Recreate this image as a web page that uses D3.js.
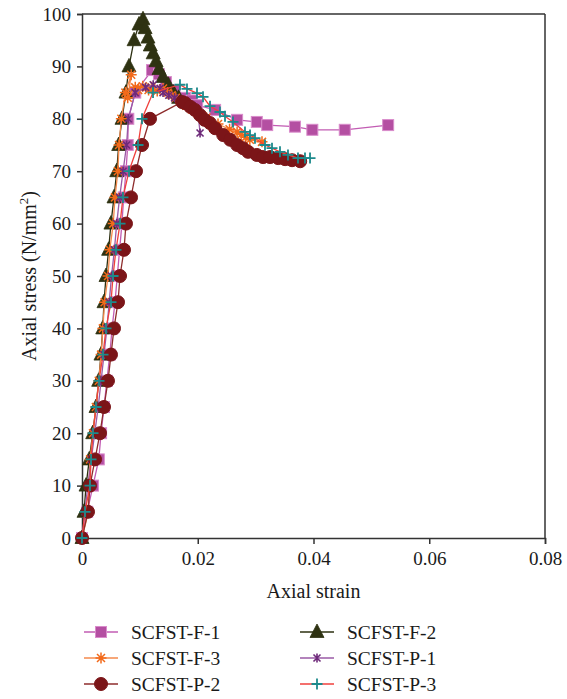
<!DOCTYPE html>
<html>
<head>
<meta charset="utf-8">
<script src="https://cdn.jsdelivr.net/npm/d3@7"></script>
<style>
  html, body { margin: 0; padding: 0; background: #fff; }
  svg text { font-family: "Liberation Serif", "DejaVu Serif", serif; fill: #1a1a1a; }
</style>
</head>
<body>
<svg id="chart" width="567" height="699"></svg>
<script>
// Axial stress–strain curves of six specimens
const seriesNames = ["SCFST-F-1", "SCFST-F-2", "SCFST-F-3", "SCFST-P-1", "SCFST-P-2", "SCFST-P-3"];

const strainF1 = [0, 0.0009, 0.0019, 0.0029, 0.0033, 0.0038, 0.0043, 0.0048, 0.0052, 0.0057, 0.0061, 0.0065, 0.0069, 0.0072, 0.0076, 0.0079, 0.0080, 0.0092, 0.0121, 0.0133, 0.0145, 0.0160, 0.0178, 0.0190, 0.0199, 0.0230, 0.0268, 0.0302, 0.0320, 0.0368, 0.0398, 0.0454, 0.0529];
const stressF1 = [0, 5, 10, 15, 20, 25, 30, 35, 40, 45, 50, 55, 60, 65, 70, 75, 80, 85, 89.3, 88.5, 87, 85.5, 84, 83.5, 82.6, 81.7, 79.8, 79.4, 78.8, 78.5, 77.9, 77.9, 78.8];

const strainF2 = [0, 0.00035, 0.0007, 0.00126, 0.00185, 0.00242, 0.00288, 0.00328, 0.00358, 0.0038, 0.00415, 0.0046, 0.005, 0.00553, 0.006, 0.00634, 0.00691, 0.0076, 0.00812, 0.009, 0.00985, 0.01054, 0.0109, 0.0114, 0.0118, 0.0123, 0.0128, 0.0133, 0.0140, 0.0149, 0.0158, 0.0167];
const stressF2 = [0, 5, 10, 15, 20, 25, 30, 35, 40, 45, 50, 55, 60, 65, 70, 75, 80, 85, 90, 95, 98, 99, 97.3, 95.5, 94, 92.5, 91, 89.5, 88, 86.5, 85, 84];

const strainF3 = [0, 0.0011, 0.0012, 0.0014, 0.0019, 0.0024, 0.0029, 0.0033, 0.0036, 0.0039, 0.0045, 0.0048, 0.0054, 0.0057, 0.0062, 0.0064, 0.0068, 0.0075, 0.0085, 0.0079, 0.0092, 0.0097, 0.0105, 0.0115, 0.0120, 0.0130, 0.0140, 0.0148, 0.0155, 0.0162, 0.0172, 0.0180, 0.0190, 0.0200, 0.0215, 0.0235, 0.0255, 0.0268, 0.0275, 0.0283, 0.0290, 0.0311];
const stressF3 = [0, 5, 10, 15, 20, 25, 30, 35, 40, 45, 50, 55, 60, 65, 70, 75, 80, 85, 88.4, 84, 86, 85.5, 86.2, 85.5, 86, 85.3, 85.8, 85, 84.5, 84, 83.3, 82.5, 81.8, 81, 80.2, 79, 78, 77.5, 77, 76.5, 76, 75.6];

const strainP1 = [0, 0.0005, 0.0010, 0.0016, 0.0022, 0.0028, 0.0033, 0.0038, 0.0043, 0.0047, 0.0051, 0.0056, 0.0060, 0.0065, 0.0071, 0.0077, 0.0080, 0.0092, 0.0110, 0.0123, 0.0135, 0.0140, 0.0150, 0.0160, 0.0170, 0.0180, 0.0190, 0.0200, 0.0204];
const stressP1 = [0, 5, 10, 15, 20, 25, 30, 35, 40, 45, 50, 55, 60, 65, 70, 75, 80, 85, 86, 86.5, 85.8, 85, 84.5, 84, 83.5, 83, 82.5, 81.5, 77.3];

const strainP2 = [0, 0.00104, 0.00138, 0.00225, 0.00311, 0.0038, 0.00449, 0.00501, 0.00553, 0.00622, 0.00657, 0.00726, 0.0076, 0.00847, 0.00933, 0.01037, 0.01175, 0.0173, 0.0178, 0.0187, 0.0195, 0.0204, 0.0212, 0.0221, 0.0230, 0.0244, 0.0256, 0.0268, 0.0278, 0.0287, 0.0302, 0.0313, 0.0325, 0.0339, 0.0351, 0.0363, 0.0377];
const stressP2 = [0, 5, 10, 15, 20, 25, 30, 35, 40, 45, 50, 55, 60, 65, 70, 75, 80, 83.2, 83, 82.3, 81.7, 80.7, 79.8, 79.2, 78.2, 76.9, 76, 75, 74.4, 73.7, 73.1, 72.7, 72.7, 72.5, 72.3, 72.1, 71.9];

const strainP3 = [0, 0.00052, 0.00138, 0.00156, 0.0019, 0.00242, 0.00294, 0.00363, 0.00415, 0.00501, 0.00536, 0.00587, 0.00657, 0.00708, 0.00812, 0.00968, 0.01037, 0.01227, 0.01693, 0.01814, 0.01987, 0.02091, 0.02212, 0.02384, 0.02471, 0.02609, 0.02816, 0.02903, 0.02989, 0.03162, 0.03283, 0.03421, 0.03559, 0.03732, 0.03853, 0.0394];
const stressP3 = [0, 5, 10, 15, 20, 25, 30, 35, 40, 45, 50, 55, 60, 65, 70, 75, 80, 85, 86.5, 85.7, 84.9, 84.2, 82.4, 81.3, 80.5, 79.4, 77.5, 76.9, 76.3, 75, 74.4, 73.7, 73.1, 72.5, 72.5, 72.5];

const xTicks = [0, 0.02, 0.04, 0.06, 0.08];
const yTicks = [0, 10, 20, 30, 40, 50, 60, 70, 80, 90, 100];

const strains = [strainF1, strainF2, strainF3, strainP1, strainP2, strainP3];
const stresses = [stressF1, stressF2, stressF3, stressP1, stressP2, stressP3];

// Line / marker styling per specimen
const styles = [
  { line: "#c25cb3", fill: "#b44fa2", stroke: "#d98ccb", symbol: "square" },
  { line: "#2c3011", fill: "#2e3212", stroke: "#2e3212", symbol: "triangle" },
  { line: "#f58a4c", fill: "none", stroke: "#f26a1b", symbol: "asterisk" },
  { line: "#9a5aa6", fill: "none", stroke: "#6e2a7a", symbol: "star" },
  { line: "#8e2c2c", fill: "#7b1518", stroke: "#7b1518", symbol: "circle" },
  { line: "#f0403c", fill: "none", stroke: "#1d8a8c", symbol: "plus" }
];

const svg = d3.select("#chart");
const margin = { left: 82, top: 14, right: 22, bottom: 161 };
const W = 567, H = 699;
const x = d3.scaleLinear().domain([0, 0.08]).range([margin.left, W - margin.right]);
const y = d3.scaleLinear().domain([0, 100]).range([H - margin.bottom, margin.top]);

// Frame: top and right borders
const axisColor = "#333";
svg.append("line").attr("x1", x(0)).attr("x2", x(0.08)).attr("y1", y(100)).attr("y2", y(100))
  .attr("stroke", axisColor).attr("stroke-width", 1.5);
svg.append("line").attr("x1", x(0.08)).attr("x2", x(0.08)).attr("y1", y(100)).attr("y2", y(0))
  .attr("stroke", axisColor).attr("stroke-width", 1.5);

const xAxis = svg.append("g").attr("transform", `translate(0,${y(0)})`)
  .call(d3.axisBottom(x).tickValues(xTicks).tickFormat(d => d === 0 ? "0" : d3.format(".2f")(d)).tickSizeOuter(0).tickSize(6).tickPadding(8));
const yAxis = svg.append("g").attr("transform", `translate(${x(0)},0)`)
  .call(d3.axisLeft(y).tickValues(yTicks).tickSizeOuter(0).tickSize(5).tickPadding(6));
[xAxis, yAxis].forEach(g => {
  g.select(".domain").attr("stroke", axisColor).attr("stroke-width", 1.5);
  g.selectAll(".tick line").attr("stroke", axisColor).attr("stroke-width", 1.5);
  g.selectAll(".tick text").attr("font-size", 19).attr("font-family", "Liberation Serif, DejaVu Serif, serif").attr("fill", "#1a1a1a");
});

// Axis titles
svg.append("text").attr("x", (x(0) + x(0.08)) / 2).attr("y", 598)
  .attr("text-anchor", "middle").attr("font-size", 20).text("Axial strain");
const yl = svg.append("text").attr("transform", `translate(36,${(y(0) + y(100)) / 2}) rotate(-90)`)
  .attr("text-anchor", "middle").attr("font-size", 20);
yl.append("tspan").text("Axial stress (N/mm");
yl.append("tspan").attr("dy", -8).attr("font-size", 13).text("2");
yl.append("tspan").attr("dy", 8).text(")");

// Marker drawing
function drawMarker(g, st, cx, cy, scale) {
  const s = scale || 1;
  const m = g.append("g").attr("transform", `translate(${cx},${cy}) scale(${s})`);
  switch (st.symbol) {
    case "square":
      m.append("rect").attr("x", -5.5).attr("y", -5.5).attr("width", 11).attr("height", 11)
        .attr("fill", st.fill).attr("stroke", st.stroke).attr("stroke-width", 1);
      break;
    case "triangle":
      m.append("path").attr("d", "M0,-8L7,5.5L-7,5.5Z").attr("fill", st.fill).attr("stroke", st.stroke).attr("stroke-width", 0.8);
      break;
    case "circle":
      m.append("circle").attr("r", 6.5).attr("fill", st.fill).attr("stroke", st.stroke);
      break;
    case "asterisk":
      m.append("path").attr("d", "M-5.5,0H5.5M-4,-4L4,4M-4,4L4,-4M0,-5.5V5.5")
        .attr("stroke", st.stroke).attr("stroke-width", 1.5).attr("fill", "none");
      m.append("circle").attr("r", 2).attr("fill", st.stroke);
      break;
    case "star":
      m.append("path").attr("d", "M-3.5,-3.5L3.5,3.5M-3.5,3.5L3.5,-3.5M0,-4.5V4.5")
        .attr("stroke", st.stroke).attr("stroke-width", 1.6).attr("fill", "none");
      break;
    case "plus":
      m.append("path").attr("d", "M-5.5,0H5.5M0,-5.5V5.5")
        .attr("stroke", st.stroke).attr("stroke-width", 1.8).attr("fill", "none");
      break;
  }
}

const line = d3.line().x(d => x(d[0])).y(d => y(d[1]));
const plot = svg.append("g");
seriesNames.forEach((name, i) => {
  const pts = strains[i].map((s, k) => [s, stresses[i][k]]);
  const st = styles[i];
  const g = plot.append("g");
  g.append("path").attr("d", line(pts)).attr("fill", "none").attr("stroke", st.line).attr("stroke-width", 1.3);
  pts.forEach(p => drawMarker(g, st, x(p[0]), y(p[1])));
});

// Legend: two columns, three rows
const legendRows = [632, 658, 684];
const legendCols = [84, 300];
const legendOrder = [[0, 1], [2, 3], [4, 5]];
legendOrder.forEach((pair, r) => {
  pair.forEach((si, c) => {
    const st = styles[si];
    const lx = legendCols[c], ly = legendRows[r];
    const g = svg.append("g");
    g.append("line").attr("x1", lx).attr("x2", lx + 34).attr("y1", ly).attr("y2", ly)
      .attr("stroke", st.line).attr("stroke-width", 1.5);
    drawMarker(g, st, lx + 17, ly, 1);
    g.append("text").attr("x", lx + 47).attr("y", ly).attr("dy", "0.35em")
      .attr("font-size", 19.5).text(seriesNames[si]);
  });
});
</script>
</body>
</html>
